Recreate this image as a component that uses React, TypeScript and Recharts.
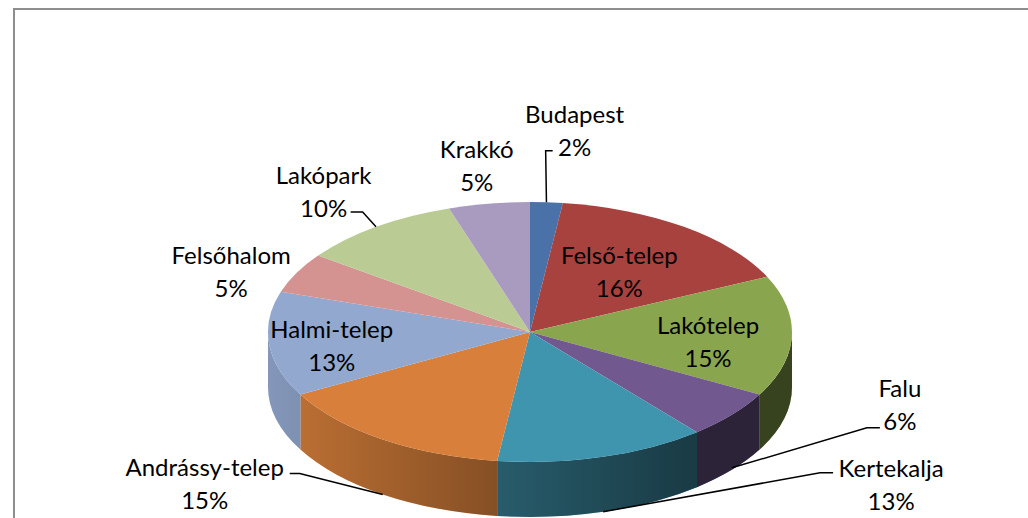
import React from 'react';
import { PieChart, Pie, Cell } from 'recharts';

const names = ['Budapest', 'Felső-telep', 'Lakótelep', 'Falu', 'Kertekalja', 'Andrássy-telep', 'Halmi-telep', 'Felsőhalom', 'Lakópark', 'Krakkó'];
const shares = [2, 16, 15, 6, 13, 15, 13, 5, 10, 5];
const colors = ['#4A72A8', '#A8423F', '#89A54E', '#71588F', '#4095AE', '#D8803B', '#92A8CF', '#D49290', '#BACC94', '#A99AC0'];

// label placement: k = radial factor on the ellipse, dx/dy nudge, optional leader line
const labelPlacement = [
  { k: 1.56, dx: 19, dy: 0, leader: { sx: -22, sy: 21, ex: -7, drop: 0 } },
  { k: 0.58, dx: 0, dy: 0 },
  { k: 0.68, dx: 0, dy: 6 },
  { k: 1, dx: 168, dy: -11, leader: { sx: -20, sy: 24, ex: -13, drop: 53 } },
  { k: 1, dx: 288, dy: 27, leader: { sx: -58, sy: -11, ex: -13, drop: 55 } },
  { k: 1, dx: -178, dy: 44, leader: { sx: 85, sy: -10, ex: 10, drop: 55 } },
  { k: 0.76, dx: 0, dy: 4 },
  { k: 1.28, dx: 0, dy: 15 },
  { k: 1.34, dx: 0, dy: 0, leader: { sx: 27, sy: 21, ex: 12, drop: 0 } },
  { k: 1.3, dx: 0, dy: 0 },
];

const TILT = 0.496;
const DEPTH = 55;
const RAD = Math.PI / 180;

const data = names.map((name, i) => ({ name, value: shares[i] }));

function ept(cx: number, cy: number, r: number, a: number, k = 1) {
  return [cx + r * k * Math.cos(a * RAD), cy - r * TILT * k * Math.sin(a * RAD)];
}

function Slice3D(props: any) {
  const { cx, cy, outerRadius, startAngle, endAngle, fill, index } = props;
  const rx = outerRadius;
  const ry = outerRadius * TILT;
  const s = Math.max(startAngle, endAngle);
  const e = Math.min(startAngle, endAngle);
  const p0 = ept(cx, cy, rx, s);
  const p1 = ept(cx, cy, rx, e);
  const large = s - e > 180 ? 1 : 0;
  const top = `M${cx},${cy} L${p0[0]},${p0[1]} A${rx},${ry} 0 ${large} 1 ${p1[0]},${p1[1]} Z`;

  let wall = null;
  const a0 = Math.min(s, 0);
  const a1 = Math.max(e, -180);
  if (a0 > a1) {
    const w0 = ept(cx, cy, rx, a0);
    const w1 = ept(cx, cy, rx, a1);
    const d = `M${w0[0]},${w0[1]} A${rx},${ry} 0 0 1 ${w1[0]},${w1[1]} L${w1[0]},${w1[1] + DEPTH} A${rx},${ry} 0 0 0 ${w0[0]},${w0[1] + DEPTH} Z`;
    const id = `shade-${index}`;
    wall = (
      <g>
        <defs>
          <linearGradient id={id} gradientUnits="userSpaceOnUse" x1={cx - rx} y1={0} x2={cx + rx} y2={0}>
            <stop offset="0" stopColor="#000" stopOpacity={0.1} />
            <stop offset="0.42" stopColor="#000" stopOpacity={0.37} />
            <stop offset="0.63" stopColor="#000" stopOpacity={0.5} />
            <stop offset="0.8" stopColor="#000" stopOpacity={0.6} />
            <stop offset="1" stopColor="#000" stopOpacity={0.6} />
          </linearGradient>
        </defs>
        <path d={d} fill={fill} stroke="none" />
        <path d={d} fill={`url(#${id})`} stroke="none" />
      </g>
    );
  }

  return (
    <g>
      {wall}
      <path d={top} fill={fill} stroke="none" />
    </g>
  );
}

function renderLabel(props: any) {
  const { cx, cy, midAngle, outerRadius, percent, index } = props;
  const cfg = labelPlacement[index];
  const [px, py] = ept(cx, cy, outerRadius, midAngle, cfg.k);
  const x = px + cfg.dx;
  const y = py + cfg.dy;
  let leader = null;
  if (cfg.leader) {
    const L = cfg.leader;
    const [tx, ty] = ept(cx, cy, outerRadius, midAngle, 1);
    const sx = x + L.sx;
    const sy = y + L.sy;
    leader = (
      <polyline
        points={`${sx},${sy} ${sx + L.ex},${sy} ${tx},${ty + L.drop}`}
        fill="none"
        stroke="#000"
        strokeWidth={1.5}
      />
    );
  }
  return (
    <g key={`lbl-${index}`}>
      {leader}
      <text x={x} y={y} textAnchor="middle" fontFamily="Lato, 'Noto Sans', sans-serif" fontSize={24} fill="#000">
        <tspan x={x} y={y - 16.5} dominantBaseline="central">{names[index]}</tspan>
        <tspan x={x} y={y + 16.5} dominantBaseline="central">{`${Math.round(percent * 100)}%`}</tspan>
      </text>
    </g>
  );
}

export default function App() {
  return (
    <div style={{ position: 'absolute', left: 0, top: 0, width: 1028, height: 518, overflow: 'hidden', background: '#fff' }}>
      <div
        style={{
          position: 'absolute',
          left: 13,
          top: 8,
          width: 1100,
          height: 600,
          borderTop: '2px solid #8E8E8E',
          borderLeft: '2px solid #8E8E8E',
        }}
      />
      <div style={{ position: 'absolute', left: 0, top: 0 }}>
        <PieChart width={1028} height={518} margin={{ top: 0, right: 0, bottom: 0, left: 0 }}>
          <Pie
            data={data}
            dataKey="value"
            nameKey="name"
            cx={530}
            cy={332}
            outerRadius={262}
            startAngle={90}
            endAngle={-270}
            isAnimationActive={false}
            labelLine={false}
            label={renderLabel}
            shape={Slice3D}
            activeShape={Slice3D}
            inactiveShape={Slice3D}
          >
            {data.map((entry, index) => (
              <Cell key={`cell-${index}`} fill={colors[index]} />
            ))}
          </Pie>
        </PieChart>
      </div>
    </div>
  );
}
